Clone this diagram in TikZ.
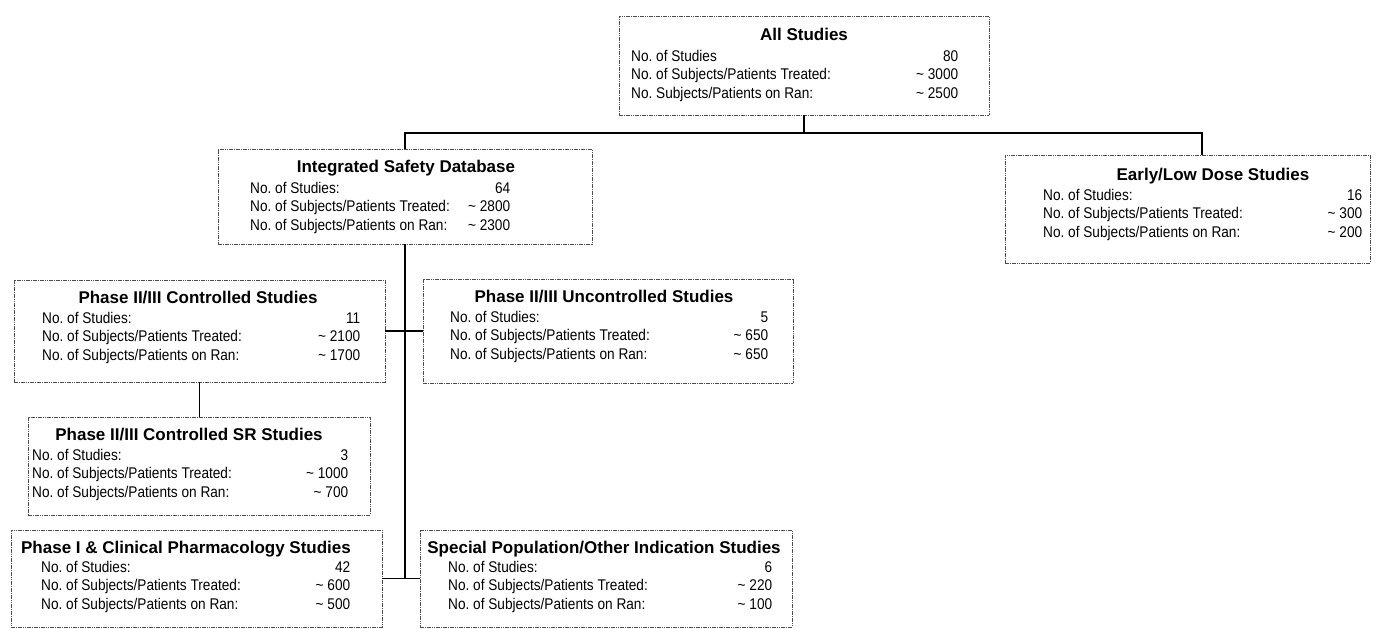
\documentclass[tikz,border=0pt]{standalone}
\usepackage{fontspec}
\setmainfont{Liberation Sans}
\newfontfamily\bodyfont{Liberation Sans}[FakeStretch=0.88]
\usepackage{array}
\frenchspacing
% three rows: label on the left, count flush right
\newcommand{\statrows}[7]{\begin{tabular*}{#1}[t]{@{}l@{\extracolsep{\fill}}r@{}}#2&#3\\#4&#5\\#6&#7\end{tabular*}}
\newcommand{\apx}[1]{\textasciitilde{} #1}
\begin{document}
\begin{tikzpicture}[x=1pt,y=-1pt,
  sbox/.style={draw=black!70, line width=0.7pt, dash pattern=on 1.6pt off 0.7pt, inner sep=0pt},
  ttl/.style={anchor=base, inner sep=0pt, font=\fontsize{17}{19}\selectfont\bfseries},
  rows/.style={anchor=base west, inner sep=0pt, font=\bodyfont\fontsize{15.5}{18.5}\selectfont},
  link/.style={draw=black, line width=1.5pt}]
\useasboundingbox (0,0) rectangle (1377,629);

% ---- All studies
\node[sbox, minimum width=370pt, minimum height=99pt] (all) at (804,65.5) {};
\node[ttl] (all-t) at (804,40) {All Studies};
\node[rows] (all-r) at (631,61) {\statrows{327pt}{No. of Studies}{80}{No. of Subjects/Patients Treated:}{\apx{3000}}{No. Subjects/Patients on Ran:}{\apx{2500}}};

% ---- Integrated safety database
\node[sbox, minimum width=374pt, minimum height=95pt] (isd) at (405,196.5) {};
\node[ttl] (isd-t) at (406,172) {Integrated Safety Database};
\node[rows] (isd-r) at (250,193) {\statrows{260pt}{No. of Studies:}{64}{No. of Subjects/Patients Treated:}{\apx{2800}}{No. of Subjects/Patients on Ran:}{\apx{2300}}};

% ---- Early / low dose
\node[sbox, minimum width=365pt, minimum height=108pt] (early) at (1187.5,209) {};
\node[ttl] (early-t) at (1213,180) {Early/Low Dose Studies};
\node[rows] (early-r) at (1043,200) {\statrows{319pt}{No. of Studies:}{16}{No. of Subjects/Patients Treated:}{\apx{300}}{No. of Subjects/Patients on Ran:}{\apx{200}}};

% ---- Phase II/III controlled
\node[sbox, minimum width=371pt, minimum height=102pt] (ctl) at (199.5,331) {};
\node[ttl] (ctl-t) at (198,303) {Phase II/III Controlled Studies};
\node[rows] (ctl-r) at (42,323) {\statrows{318pt}{No. of Studies:}{11}{No. of Subjects/Patients Treated:}{\apx{2100}}{No. of Subjects/Patients on Ran:}{\apx{1700}}};

% ---- Phase II/III uncontrolled
\node[sbox, minimum width=370pt, minimum height=104pt] (unc) at (608,331) {};
\node[ttl] (unc-t) at (604,302) {Phase II/III Uncontrolled Studies};
\node[rows] (unc-r) at (450,322) {\statrows{318pt}{No. of Studies:}{5}{No. of Subjects/Patients Treated:}{\apx{650}}{No. of Subjects/Patients on Ran:}{\apx{650}}};

% ---- Phase II/III controlled SR
\node[sbox, minimum width=342pt, minimum height=98pt] (sr) at (199,466) {};
\node[ttl] (sr-t) at (189,440) {Phase II/III Controlled SR Studies};
\node[rows] (sr-r) at (32,460) {\statrows{316pt}{No. of Studies:}{3}{No. of Subjects/Patients Treated:}{\apx{1000}}{No. of Subjects/Patients on Ran:}{\apx{700}}};

% ---- Phase I & clinical pharmacology
\node[sbox, minimum width=371pt, minimum height=97pt] (ph1) at (196.5,578.5) {};
\node[ttl] (ph1-t) at (186,553) {Phase I \& Clinical Pharmacology Studies};
\node[rows] (ph1-r) at (41,572) {\statrows{309pt}{No. of Studies:}{42}{No. of Subjects/Patients Treated:}{\apx{600}}{No. of Subjects/Patients on Ran:}{\apx{500}}};

% ---- Special population / other indication
\node[sbox, minimum width=372pt, minimum height=97pt] (spec) at (606,578.5) {};
\node[ttl] (spec-t) at (604,553) {Special Population/Other Indication Studies};
\node[rows] (spec-r) at (448,572) {\statrows{324pt}{No. of Studies:}{6}{No. of Subjects/Patients Treated:}{\apx{220}}{No. of Subjects/Patients on Ran:}{\apx{100}}};

% ---- connectors
\coordinate (bus) at (804,133);
\coordinate (busL) at (405,133);
\coordinate (busR) at (1202,133);
\draw[link] (all.south) -- (bus);
\draw[link] (isd.north) -- (busL) -- (busR) -- (busR |- early.north);
\draw[link] (isd.south) -- (isd.south |- ph1.east);
\draw[link] (ctl.east) -- (unc.west);
\draw[link] (ctl.south) -- (ctl.south |- sr.north);
\draw[link] (ph1.east) -- (spec.west);
\end{tikzpicture}
\end{document}
